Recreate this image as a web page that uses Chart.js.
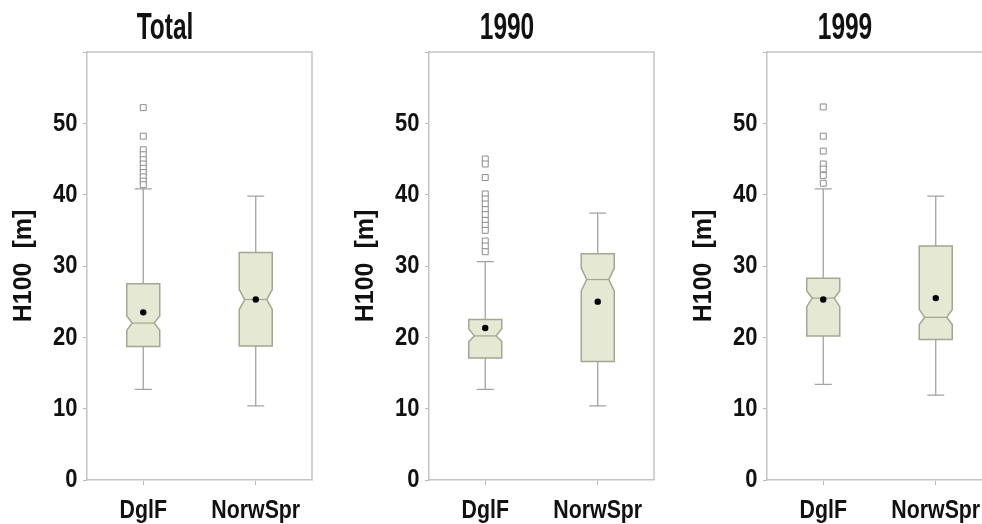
<!DOCTYPE html>
<html><head><meta charset="utf-8">
<script src="https://cdn.jsdelivr.net/npm/chart.js@4.4.1/dist/chart.umd.min.js"></script>
<style>
html,body{margin:0;padding:0;background:#fff;overflow:hidden;width:982px;height:524px;}
#wrap{position:relative;width:982px;height:524px;overflow:hidden;background:#fff;}
canvas{position:absolute;top:0;}
</style></head><body>
<div id="wrap">
<canvas id="c0" width="330" height="524" style="left:0px"></canvas>
<canvas id="c1" width="330" height="524" style="left:342px"></canvas>
<canvas id="c2" width="330" height="524" style="left:680px"></canvas>
</div>
<script>
// ---- data ----
const panelTitles = ['Total', '1990', '1999'];
const categories = ['DglF', 'NorwSpr'];
const yTickValues = [0, 10, 20, 30, 40, 50, 60];
const yTickLabels = ['0', '10', '20', '30', '40', '50', ''];
const yAxisTitle = 'H100  [m]';
// each row = one panel, values = [DglF, NorwSpr]
const whiskerLow  = [[12.7, 10.4], [12.7, 10.4], [13.4, 11.9]];
const q1          = [[18.7, 18.8], [17.1, 16.6], [20.2, 19.7]];
const notchLow    = [[21.0, 23.9], [19.4, 26.5], [24.3, 21.8]];
const median      = [[22.0, 25.3], [20.2, 28.1], [25.5, 22.8]];
const notchHigh   = [[23.0, 26.7], [21.2, 29.7], [26.5, 23.9]];
const q3          = [[27.5, 31.9], [22.5, 31.7], [28.3, 32.8]];
const whiskerHigh = [[40.8, 39.8], [30.6, 37.4], [40.8, 39.8]];
const means       = [[23.5, 25.3], [21.3, 25.0], [25.3, 25.5]];
const outliersDglF = [
  [52.2, 48.2, 46.3, 45.6, 44.9, 44.3, 43.7, 43.1, 42.5, 41.9, 41.4],
  [45.0, 44.3, 42.4, 40.1, 39.4, 38.7, 37.9, 37.2, 36.4, 35.7, 35.0, 33.5, 32.8, 32.0],
  [52.3, 48.2, 46.1, 44.3, 43.6, 42.7, 41.6]
];

const SANS = '"Liberation Sans", Arial, sans-serif';

const boxPlugin = {
  id: 'boxes',
  beforeDatasetsDraw(chart, args, opts) {
    const p = opts.panel;
    const ctx = chart.ctx, x = chart.scales.x, y = chart.scales.y;
    const Y = v => y.getPixelForValue(v);
    const half = 16.5, inset = 5.5, cap = 8.5;
    categories.forEach((c, i) => {
      const cx = x.getPixelForValue(i);
      ctx.save();
      ctx.strokeStyle = '#a2a2a2';
      ctx.lineWidth = 1.3;
      ctx.beginPath();
      ctx.moveTo(cx, Y(q3[p][i])); ctx.lineTo(cx, Y(whiskerHigh[p][i]));
      ctx.moveTo(cx - cap, Y(whiskerHigh[p][i])); ctx.lineTo(cx + cap, Y(whiskerHigh[p][i]));
      ctx.moveTo(cx, Y(q1[p][i])); ctx.lineTo(cx, Y(whiskerLow[p][i]));
      ctx.moveTo(cx - cap, Y(whiskerLow[p][i])); ctx.lineTo(cx + cap, Y(whiskerLow[p][i]));
      ctx.stroke();
      const l = cx - half, r = cx + half;
      ctx.beginPath();
      ctx.moveTo(l, Y(q3[p][i]));
      ctx.lineTo(r, Y(q3[p][i]));
      ctx.lineTo(r, Y(notchHigh[p][i]));
      ctx.lineTo(r - inset, Y(median[p][i]));
      ctx.lineTo(r, Y(notchLow[p][i]));
      ctx.lineTo(r, Y(q1[p][i]));
      ctx.lineTo(l, Y(q1[p][i]));
      ctx.lineTo(l, Y(notchLow[p][i]));
      ctx.lineTo(l + inset, Y(median[p][i]));
      ctx.lineTo(l, Y(notchHigh[p][i]));
      ctx.closePath();
      ctx.fillStyle = '#e5e9d3';
      ctx.fill();
      ctx.strokeStyle = '#a3a78f';
      ctx.lineWidth = 1.5;
      ctx.stroke();
      ctx.beginPath();
      ctx.moveTo(l + inset, Y(median[p][i]));
      ctx.lineTo(r - inset, Y(median[p][i]));
      ctx.lineWidth = 1.2;
      ctx.stroke();
      ctx.restore();
    });
  }
};

const framePlugin = {
  id: 'frame',
  beforeDatasetsDraw(chart) {
    const {ctx, chartArea: a} = chart;
    ctx.save();
    ctx.strokeStyle = '#c4c4c4';
    ctx.lineWidth = 1.5;
    ctx.beginPath();
    ctx.moveTo(a.left, a.top); ctx.lineTo(a.right, a.top); ctx.lineTo(a.right, a.bottom);
    ctx.stroke();
    ctx.restore();
  }
};

// condensed bold text (no narrow font installed): draw with horizontal squeeze
function squeezedText(ctx, text, px, py, sx, font, align, baseline) {
  ctx.save();
  ctx.font = font;
  ctx.fillStyle = '#111';
  ctx.textAlign = align;
  ctx.textBaseline = baseline;
  ctx.translate(px, py);
  ctx.scale(sx, 1);
  ctx.fillText(text, 0, 0);
  ctx.restore();
}

const textPlugin = {
  id: 'panelText',
  afterDraw(chart, args, opts) {
    const ctx = chart.ctx, x = chart.scales.x, y = chart.scales.y, a = chart.chartArea;
    // panel title
    squeezedText(ctx, opts.title, chart.width / 2, 38.5, 0.68, 'bold 36px ' + SANS, 'center', 'alphabetic');
    // y tick labels
    yTickValues.forEach((v, i) => {
      if (!yTickLabels[i]) return;
      squeezedText(ctx, yTickLabels[i], a.left - 9.5, y.getPixelForValue(v) + 0.5, 0.88, 'bold 25px ' + SANS, 'right', 'middle');
    });
    // x category labels
    categories.forEach((c, i) => {
      squeezedText(ctx, c, x.getPixelForValue(i), 518, 0.82, 'bold 26px ' + SANS, 'center', 'alphabetic');
    });
  }
};

function makePanel(k) {
  return new Chart(document.getElementById('c' + k), {
    type: 'line',
    data: {
      labels: categories,
      datasets: [
        {
          label: 'mean', data: means[k], showLine: false,
          pointRadius: 3.2, pointBackgroundColor: '#000', pointBorderColor: '#000', pointBorderWidth: 0
        },
        {
          label: 'outliers', data: outliersDglF[k].map(v => ({x: categories[0], y: v})), showLine: false,
          pointStyle: 'rect', pointRadius: 4.2, pointBackgroundColor: '#fff',
          pointBorderColor: '#8c8c8c', pointBorderWidth: 1
        }
      ]
    },
    options: {
      responsive: false, animation: false, events: [],
      layout: {padding: {top: 52, left: 0, right: 18, bottom: 0}},
      plugins: {
        legend: {display: false}, tooltip: {enabled: false}, title: {display: false},
        boxes: {panel: k}, panelText: {title: panelTitles[k]}
      },
      scales: {
        x: {
          type: 'category', offset: true,
          grid: {display: true, drawOnChartArea: false, drawTicks: true, tickLength: 5, color: '#b8b8b8'},
          border: {display: true, color: '#c4c4c4', width: 1.5},
          ticks: {display: false},
          afterFit(s) { s.height = 44; }
        },
        y: {
          min: 0, max: 60,
          afterBuildTicks(s) { s.ticks = yTickValues.map(v => ({value: v})); },
          grid: {display: true, drawOnChartArea: false, drawTicks: true, tickLength: 4, color: '#b8b8b8'},
          border: {display: true, color: '#c4c4c4', width: 1.5},
          ticks: {display: false},
          title: {display: true, text: yAxisTitle, color: '#111',
                  font: {family: SANS, size: 25, weight: 'bold'},
                  padding: {top: 9, bottom: 0}},
          afterFit(s) { s.width = 87; }
        }
      }
    },
    plugins: [framePlugin, boxPlugin, textPlugin]
  });
}
[0, 1, 2].forEach(makePanel);
</script>
</body></html>
